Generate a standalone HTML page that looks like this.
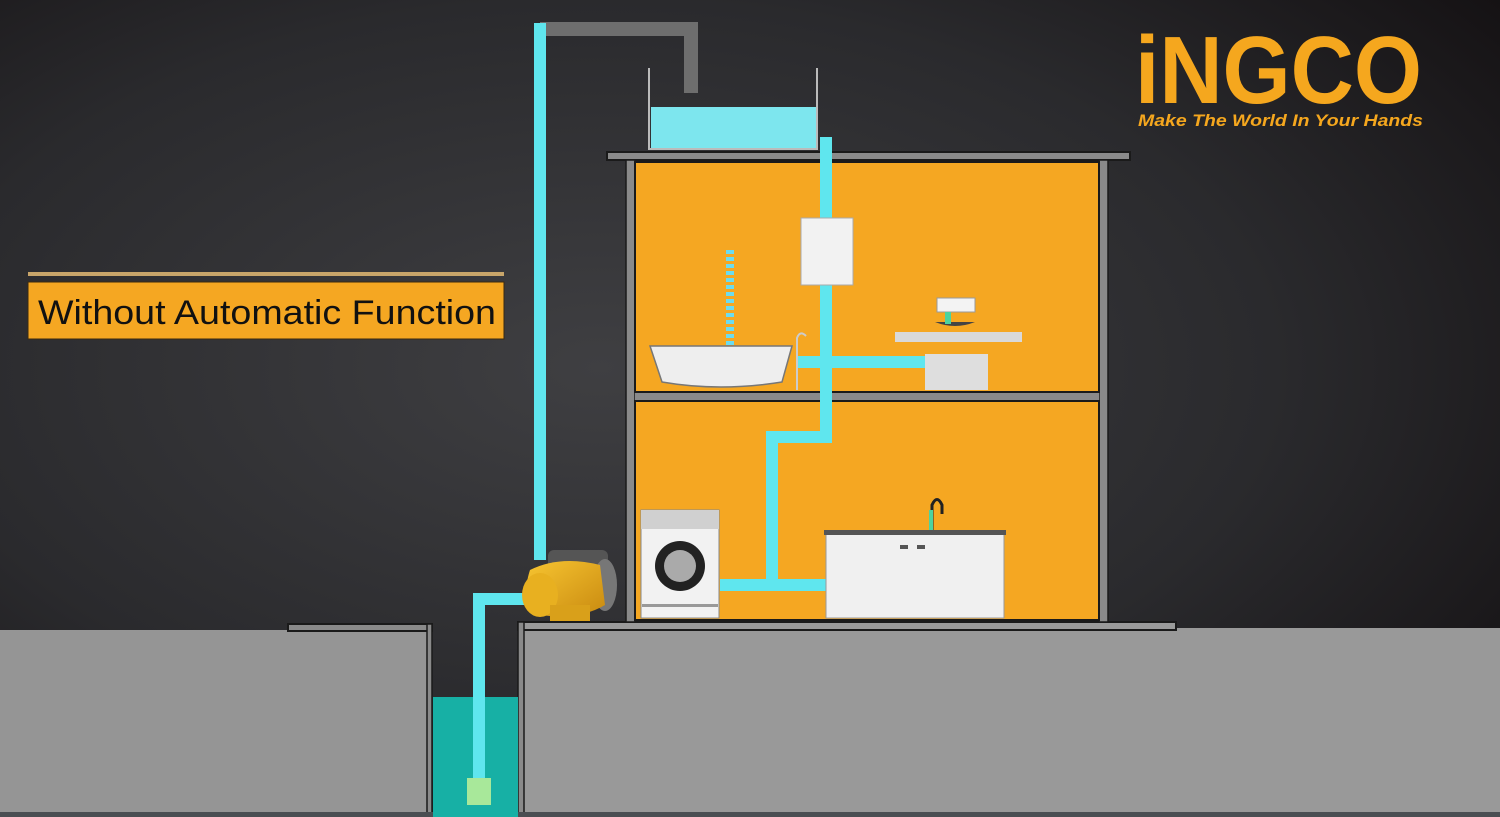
<!DOCTYPE html>
<html><head><meta charset="utf-8"><style>
html,body{margin:0;padding:0;background:#222;}
svg{display:block}
</style></head><body>
<svg width="1500" height="817" viewBox="0 0 1500 817" xmlns="http://www.w3.org/2000/svg">
<defs>
<radialGradient id="bg" cx="0.4" cy="0.45" r="0.75">
<stop offset="0" stop-color="#3f3f42"/><stop offset="0.6" stop-color="#2a2a2d"/><stop offset="1" stop-color="#151214"/>
</radialGradient>
<linearGradient id="gold" x1="0" y1="0" x2="1" y2="1">
<stop offset="0" stop-color="#f7c531"/><stop offset="1" stop-color="#c98a10"/>
</linearGradient>
</defs>
<rect width="1500" height="817" fill="url(#bg)"/>

<!-- ground -->
<rect x="0" y="630" width="430" height="187" fill="#959595"/>
<rect x="522" y="628" width="978" height="189" fill="#999"/>
<rect x="288" y="624" width="144" height="7" fill="#8a8a8a" stroke="#1a1a1a" stroke-width="2"/>
<rect x="427" y="624" width="5" height="193" fill="#8a8a8a" stroke="#1a1a1a" stroke-width="1.5"/>
<rect x="518" y="622" width="658" height="8" fill="#9a9a9a" stroke="#1a1a1a" stroke-width="2"/>
<rect x="518" y="622" width="6" height="195" fill="#8a8a8a" stroke="#1a1a1a" stroke-width="1.5"/>
<rect x="0" y="812" width="1500" height="5" fill="#4a4e52"/>
<!-- well water -->
<rect x="433" y="697" width="85" height="120" fill="#17b0a5"/>

<!-- building -->
<rect x="607" y="152" width="523" height="8" fill="#8a8a8a" stroke="#1a1a1a" stroke-width="2"/>
<rect x="626" y="160" width="9" height="462" fill="#8a8a8a" stroke="#1a1a1a" stroke-width="1.5"/>
<rect x="1099" y="160" width="9" height="462" fill="#8a8a8a" stroke="#1a1a1a" stroke-width="1.5"/>
<rect x="635" y="162" width="464" height="230" fill="#f5a722" stroke="#1a1a1a" stroke-width="2"/>
<rect x="635" y="393" width="464" height="7" fill="#8a8a8a"/>
<rect x="635" y="401" width="464" height="219" fill="#f5a722" stroke="#1a1a1a" stroke-width="2"/>

<!-- tank -->
<rect x="651" y="107" width="165" height="42" fill="#7de6ee"/>
<line x1="649" y1="68" x2="649" y2="150" stroke="#bbb" stroke-width="2"/>
<line x1="817" y1="68" x2="817" y2="150" stroke="#bbb" stroke-width="2"/>
<line x1="649" y1="149" x2="817" y2="149" stroke="#bbb" stroke-width="2"/>
<!-- gray pipe -->
<path d="M540 29 H691 V93" fill="none" stroke="#6e6e6e" stroke-width="14"/>

<!-- cyan pipes -->
<g fill="none" stroke="#5fe6ee" stroke-width="12">
<path d="M540 23 V560"/>
<path d="M530 599 H479 V795"/>
<path d="M826 137 V437 H772 V585 H720"/>
<path d="M772 585 H826"/>
<path d="M798 362 H926"/>
</g>
<rect x="467" y="778" width="24" height="27" fill="#a8e89a"/>

<!-- water heater -->
<rect x="801" y="218" width="52" height="67" fill="#f2f2f2" stroke="#aaa"/>
<!-- bathtub -->
<path d="M650 346 H792 L782 382 Q720 392 662 382 Z" fill="#eee" stroke="#777" stroke-width="1.5"/>
<path d="M730 250 V345" stroke="#6cdcef" stroke-width="8" stroke-dasharray="4 3"/>
<path d="M797 390 V338 Q800 330 806 336" fill="none" stroke="#ccc" stroke-width="2"/>
<!-- sink -->
<rect x="895" y="332" width="127" height="10" fill="#d9d9d9"/>
<rect x="925" y="354" width="63" height="36" fill="#dedede"/>
<rect x="937" y="298" width="38" height="14" fill="#f3f3f3" stroke="#999"/>
<path d="M935 322 Q955 330 975 322" fill="#444"/>
<rect x="945" y="312" width="6" height="12" fill="#4cd3a0"/>
<!-- washing machine -->
<rect x="641" y="510" width="78" height="108" fill="#f2f2f2" stroke="#888"/>
<rect x="641" y="510" width="78" height="19" fill="#d0d0d0"/>
<circle cx="680" cy="566" r="25" fill="#222"/>
<circle cx="680" cy="566" r="16" fill="#aaa"/>
<rect x="642" y="604" width="76" height="3" fill="#999"/>
<!-- kitchen -->
<rect x="826" y="532" width="178" height="86" fill="#f0f0f0" stroke="#999"/>
<rect x="824" y="530" width="182" height="5" fill="#555"/>
<rect x="900" y="545" width="8" height="4" fill="#555"/><rect x="917" y="545" width="8" height="4" fill="#555"/>
<path d="M932 530 V505 Q937 494 942 505 V514" fill="none" stroke="#222" stroke-width="3"/>
<rect x="929" y="510" width="4" height="20" fill="#4cd3a0"/>

<!-- pump -->
<rect x="548" y="550" width="60" height="25" rx="6" fill="#555"/>
<ellipse cx="605" cy="585" rx="12" ry="26" fill="#777"/>
<path d="M530 570 Q560 555 600 565 L605 605 Q580 620 540 615 Q520 600 530 570Z" fill="url(#gold)"/>
<ellipse cx="540" cy="595" rx="18" ry="22" fill="#e8b020"/>
<rect x="550" y="605" width="40" height="16" fill="#d9a01a"/>

<!-- label -->
<rect x="28" y="272" width="476" height="4" fill="#c8a56a"/>
<rect x="28" y="282" width="476" height="57" fill="#f5a722" stroke="#3a2a10" stroke-width="1"/>
<text x="38" y="324" font-family="Liberation Sans, sans-serif" font-size="34" fill="#111" textLength="458" lengthAdjust="spacingAndGlyphs">Without Automatic Function</text>

<!-- logo -->
<text x="1135" y="103" font-family="Liberation Sans, sans-serif" font-weight="bold" font-size="96" fill="#f5a71e" textLength="287" lengthAdjust="spacingAndGlyphs">iNGCO</text>
<text x="1138" y="126" font-family="Liberation Sans, sans-serif" font-weight="bold" font-style="italic" font-size="17" fill="#f5a71e" textLength="285" lengthAdjust="spacingAndGlyphs">Make The World In Your Hands</text>
</svg>
</body></html>
